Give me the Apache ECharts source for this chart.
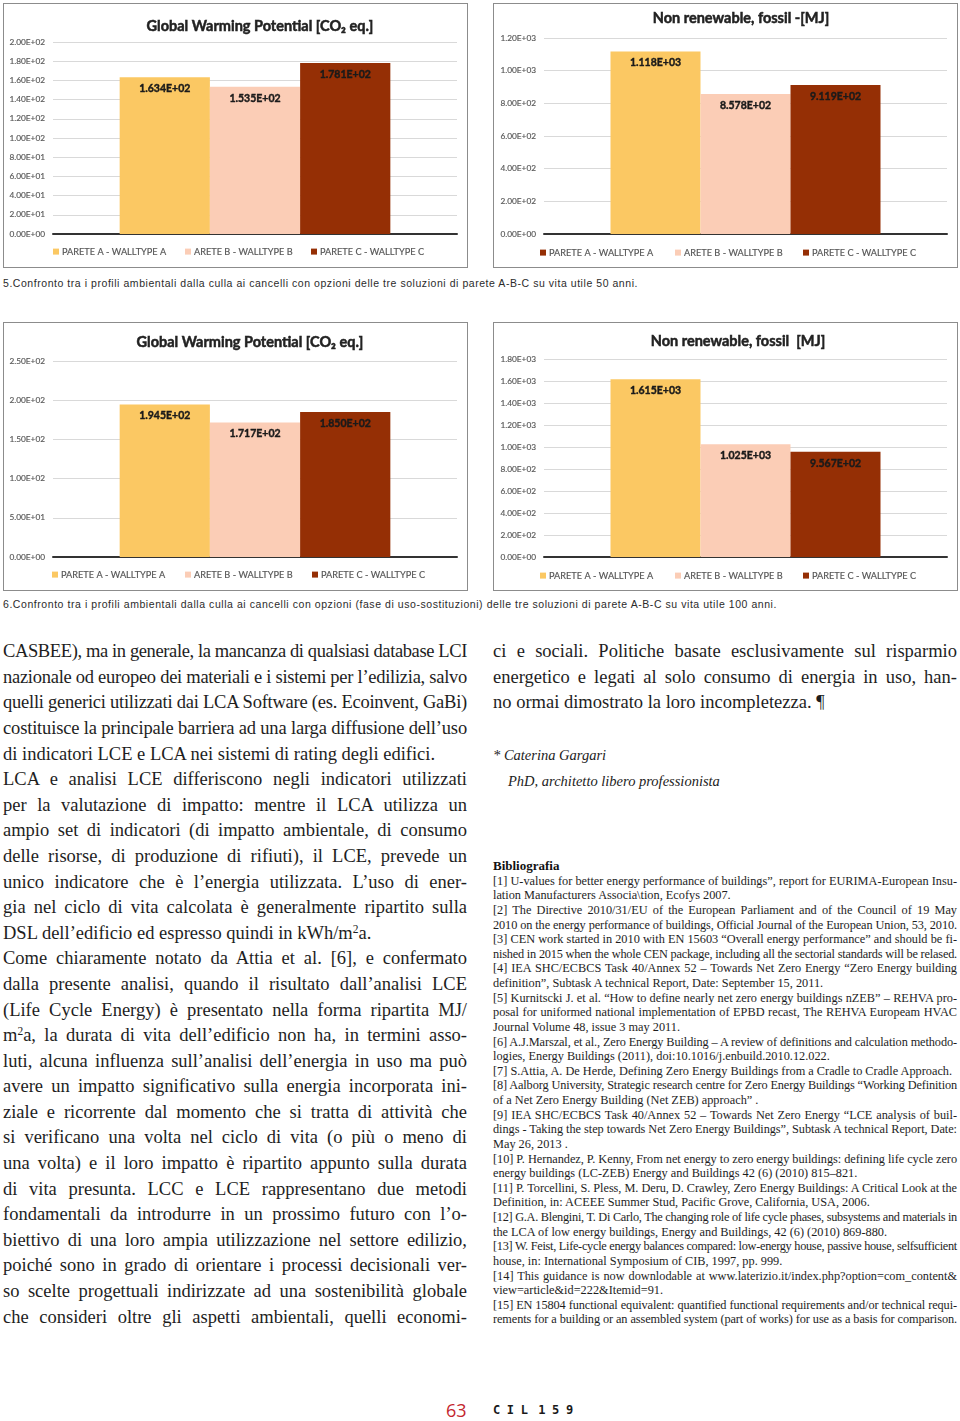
<!DOCTYPE html>
<html><head><meta charset="utf-8">
<script src="https://cdn.jsdelivr.net/npm/echarts@6/dist/echarts.min.js"></script>
<style>
html,body{margin:0;padding:0;background:#fff;}
#page{position:relative;width:960px;height:1421px;overflow:hidden;background:#fff;}
.box{position:absolute;border:1px solid #8c8c8c;box-sizing:border-box;background:#fff;}
.box > div{position:absolute;left:0;top:0;width:100%;height:100%;}
.cap{position:absolute;left:3px;font-family:"Liberation Sans",Arial,sans-serif;font-size:10.5px;color:#2b2b2b;white-space:nowrap;line-height:14px;}
.col{position:absolute;width:464px;font-family:"Liberation Serif","Times New Roman",serif;color:#1e1e1e;}
.ln{white-space:nowrap;overflow:visible;}
.ln span{white-space:nowrap;}
.body .ln{height:25.6px;line-height:25.6px;font-size:18.5px;}
.bib .ln{height:14.63px;line-height:14.63px;font-size:12.3px;}
sup{font-size:0.62em;line-height:0;vertical-align:0.55em;}
.it{position:absolute;font-family:"Liberation Serif","Times New Roman",serif;font-style:italic;font-size:14.5px;color:#222;white-space:nowrap;line-height:18px;}
.bh{position:absolute;left:493px;font-family:"Liberation Serif","Times New Roman",serif;font-weight:bold;font-size:13px;color:#111;line-height:16px;}
.pg{position:absolute;left:446px;top:1398px;font-family:"Open Sans","Noto Sans",sans-serif;font-size:18px;color:#c4262e;line-height:24px;}
.jn{position:absolute;left:493px;top:1401px;font-family:"DejaVu Sans Mono",monospace;font-weight:bold;font-size:12px;letter-spacing:6.6px;word-spacing:-10px;color:#1a1a1a;line-height:18px;white-space:nowrap;}
</style></head>
<body>
<div id="page">
  <div class="box" style="left:3px;top:3px;width:465px;height:265px;"><div id="c1"></div></div>
  <div class="box" style="left:493px;top:3px;width:465px;height:265px;"><div id="c2"></div></div>
  <div class="box" style="left:3px;top:322px;width:465px;height:269px;"><div id="c3"></div></div>
  <div class="box" style="left:493px;top:322px;width:465px;height:269px;"><div id="c4"></div></div>
  <div class="cap" id="cap5" data-w="635" style="top:276px;"></div>
  <div class="cap" id="cap6" data-w="774" style="top:597px;"></div>
  <div class="col body" id="leftCol" style="left:3px;top:639.2px;"></div>
  <div class="col body" id="rightCol" style="left:493px;top:639.2px;"></div>
  <div class="it" style="left:493px;top:746px;">* Caterina Gargari</div>
  <div class="it" style="left:508px;top:772px;">PhD, architetto libero professionista</div>
  <div class="bh" style="top:858px;">Bibliografia</div>
  <div class="col bib" id="bibCol" style="left:493px;top:873.7px;"></div>
  <div class="pg">63</div>
  <div class="jn">CIL 159</div>
</div>
<script>
// ---------------- DATA ----------------
const legendNames = ['PARETE A - WALLTYPE A', 'ARETE B - WALLTYPE B', 'PARETE C - WALLTYPE C'];
const barColors = ['#FBC863', '#FBCDB6', '#952F05'];
const gwp50 = [163.4, 153.5, 178.1];
const fossil50 = [1118, 857.8, 911.9];
const gwp100 = [194.5, 171.7, 185.0];
const fossil100 = [1615, 1025, 956.7];
const titles = ['Global Warming Potential [CO\u2082 eq.]', 'Non renewable, fossil -[MJ]', 'Global Warming Potential [CO\u2082 eq.]', 'Non renewable, fossil  [MJ]'];
const axisMax = [200, 1200, 250, 1800];
const axisInterval = [20, 200, 50, 200];

const caption5 = '5.Confronto tra i profili ambientali dalla culla ai cancelli con opzioni delle tre soluzioni di parete A-B-C su vita utile 50 anni.';
const caption6 = '6.Confronto tra i profili ambientali dalla culla ai cancelli con opzioni (fase di uso-sostituzioni) delle tre soluzioni di parete A-B-C su vita utile 100 anni.';

// j = justified line, l = last line of paragraph
const leftLines = [
 ['CASBEE), ma in generale, la mancanza di qualsiasi database LCI','j'],
 ['nazionale od europeo dei materiali e i sistemi per l’edilizia, salvo','j'],
 ['quelli generici utilizzati dai LCA Software (es. Ecoinvent, GaBi)','j'],
 ['costituisce la principale barriera ad una larga diffusione dell’uso','j'],
 ['di indicatori LCE e LCA nei sistemi di rating degli edifici.','l'],
 ['LCA e analisi LCE differiscono negli indicatori utilizzati','j'],
 ['per la valutazione di impatto: mentre il LCA utilizza un','j'],
 ['ampio set di indicatori (di impatto ambientale, di consumo','j'],
 ['delle risorse, di produzione di rifiuti), il LCE, prevede un','j'],
 ['unico indicatore che è l’energia utilizzata. L’uso di ener-','j'],
 ['gia nel ciclo di vita calcolata è generalmente ripartito sulla','j'],
 ['DSL dell’edificio ed espresso quindi in kWh/m<sup>2</sup>a.','l'],
 ['Come chiaramente notato da Attia et al. [6], e confermato','j'],
 ['dalla presente analisi, quando il risultato dall’analisi LCE','j'],
 ['(Life Cycle Energy) è presentato nella forma ripartita MJ/','j'],
 ['m<sup>2</sup>a, la durata di vita dell’edificio non ha, in termini asso-','j'],
 ['luti, alcuna influenza sull’analisi dell’energia in uso ma può','j'],
 ['avere un impatto significativo sulla energia incorporata ini-','j'],
 ['ziale e ricorrente dal momento che si tratta di attività che','j'],
 ['si verificano una volta nel ciclo di vita (o più o meno di','j'],
 ['una volta) e il loro impatto è ripartito appunto sulla durata','j'],
 ['di vita presunta. LCC e LCE rappresentano due metodi','j'],
 ['fondamentali da introdurre in un prossimo futuro con l’o-','j'],
 ['biettivo di una loro ampia utilizzazione nel settore edilizio,','j'],
 ['poiché sono in grado di orientare i processi decisionali ver-','j'],
 ['so scelte progettuali indirizzate ad una sostenibilità globale','j'],
 ['che consideri oltre gli aspetti ambientali, quelli economi-','j']
];
const rightLines = [
 ['ci e sociali. Politiche basate esclusivamente sul risparmio','j'],
 ['energetico e legati al solo consumo di energia in uso, han-','j'],
 ['no ormai dimostrato la loro incompletezza. ¶','l']
];
const bibLines = [
 ['[1] U-values for better energy performance of buildings”, report for EURIMA-European Insu-','j'],
 ['lation Manufacturers Associa\\tion, Ecofys 2007.','l'],
 ['[2] The Directive 2010/31/EU of the European Parliament and of the Council of 19 May','j'],
 ['2010 on the energy performance of buildings, Official Journal of the European Union, 53, 2010.','j'],
 ['[3] CEN work started in 2010 with EN 15603 “Overall energy performance” and should be fi-','j'],
 ['nished in 2015 when the whole CEN package, including all the sectorial standards will be relased.','j'],
 ['[4] IEA SHC/ECBCS Task 40/Annex 52 – Towards Net Zero Energy “Zero Energy building','j'],
 ['definition”, Subtask A technical Report, Date: September 15, 2011.','l'],
 ['[5] Kurnitscki J. et al. “How to define nearly net zero energy buildings nZEB” – REHVA pro-','j'],
 ['posal for uniformed national implementation of EPBD recast, The REHVA Europeam HVAC','j'],
 ['Journal Volume 48, issue 3 may 2011.','l'],
 ['[6] A.J.Marszal, et al., Zero Energy Building – A review of definitions and calculation methodo-','j'],
 ['logies, Energy Buildings (2011), doi:10.1016/j.enbuild.2010.12.022.','l'],
 ['[7] S.Attia, A. De Herde, Defining Zero Energy Buildings from a Cradle to Cradle Approach.','l'],
 ['[8] Aalborg University, Strategic research centre for Zero Energy Buildings “Working Definition','j'],
 ['of a Net Zero Energy Building (Net ZEB) approach” .','l'],
 ['[9] IEA SHC/ECBCS Task 40/Annex 52 – Towards Net Zero Energy “LCE analysis of buil-','j'],
 ['dings - Taking the step towards Net Zero Energy Buildings”, Subtask A technical Report, Date:','j'],
 ['May 26, 2013 .','l'],
 ['[10] P. Hernandez, P. Kenny, From net energy to zero energy buildings: defining life cycle zero','j'],
 ['energy buildings (LC-ZEB) Energy and Buildings 42 (6) (2010) 815–821.','l'],
 ['[11] P. Torcellini, S. Pless, M. Deru, D. Crawley, Zero Energy Buildings: A Critical Look at the','j'],
 ['Definition, in: ACEEE Summer Stud, Pacific Grove, California, USA, 2006.','l'],
 ['[12] G.A. Blengini, T. Di Carlo, The changing role of life cycle phases, subsystems and materials in','j'],
 ['the LCA of low energy buildings, Energy and Buildings, 42 (6) (2010) 869-880.','l'],
 ['[13] W. Feist, Life-cycle energy balances compared: low-energy house, passive house, selfsufficient','j'],
 ['house, in: International Symposium of CIB, 1997, pp. 999.','l'],
 ['[14] This guidance is now downlodable at www.laterizio.it/index.php?option=com_content&amp;','j'],
 ['view=article&amp;id=222&amp;Itemid=91.','l'],
 ['[15] EN 15804 functional equivalent: quantified functional requirements and/or technical requi-','j'],
 ['rements for a building or an assembled system (part of works) for use as a basis for comparison.','j']
];

// ---------------- TEXT LAYOUT ----------------
function fillCol(id, lines){
  const col = document.getElementById(id);
  col.innerHTML = lines.map(l => '<div class="ln ' + l[1] + '"><span>' + l[0] + '</span></div>').join('');
}
fillCol('leftCol', leftLines);
fillCol('rightCol', rightLines);
fillCol('bibCol', bibLines);
document.getElementById('cap5').textContent = caption5;
document.getElementById('cap6').textContent = caption6;

function fitText(){
  document.querySelectorAll('.ln').forEach(el => {
    const sp = el.firstElementChild;
    sp.style.letterSpacing = ''; sp.style.wordSpacing = '';
    const W = el.clientWidth;
    const txt = sp.textContent;
    const spaces = (txt.match(/ /g) || []).length;
    let w = sp.getBoundingClientRect().width;
    if (w > W) {
      sp.style.letterSpacing = ((W - w) / txt.length) + 'px';
      w = sp.getBoundingClientRect().width;
    }
    if (el.classList.contains('j') && spaces > 0) {
      sp.style.wordSpacing = ((W - w) / spaces) + 'px';
    }
  });
  document.querySelectorAll('.cap').forEach(el => {
    el.style.letterSpacing = '';
    const W = +el.dataset.w;
    const w = el.getBoundingClientRect().width;
    el.style.letterSpacing = ((W - w) / el.textContent.length) + 'px';
  });
}
fitText();
if (document.fonts && document.fonts.ready) document.fonts.ready.then(fitText);

// ---------------- CHARTS ----------------
function fmtE(v, d){
  const s = Number(v).toExponential(d);
  const parts = s.split('e');
  const ex = parseInt(parts[1], 10);
  return parts[0] + 'E' + (ex < 0 ? '-' : '+') + String(Math.abs(ex)).padStart(2, '0');
}

const chartDefs = [
  {id:'c1', values:gwp50, k:0, titleX:256, titleY:22, grid:{left:49,right:10,top:38,bottom:33}, legendX:[49,181,307], legendY:248, firstLegendColor:null},
  {id:'c2', values:fossil50, k:1, titleX:247, titleY:14, grid:{left:50,right:10,top:34,bottom:33}, legendX:[46,181,309], legendY:249, firstLegendColor:'#952F05'},
  {id:'c3', values:gwp100, k:2, titleX:246, titleY:19, grid:{left:49,right:10,top:38,bottom:33}, legendX:[48,181,308], legendY:252, firstLegendColor:null},
  {id:'c4', values:fossil100, k:3, titleX:244, titleY:18, grid:{left:50,right:10,top:36,bottom:33}, legendX:[46,181,309], legendY:253, firstLegendColor:null}
];

chartDefs.forEach(def => {
  const chart = echarts.init(document.getElementById(def.id), null, {renderer:'canvas'});
  const legends = legendNames.map((n, i) => {
    const item = {name:n};
    if (i === 0 && def.firstLegendColor) item.itemStyle = {color:def.firstLegendColor};
    return {
      data:[item], left:def.legendX[i], top:def.legendY - 5, padding:0,
      icon:'rect', itemWidth:6, itemHeight:6, selectedMode:false,
      textStyle:{fontFamily:'Lato', fontSize:9.2, color:'#555', padding:[0,0,0,-2],
        textBorderColor:'#777', textBorderWidth:0.2}
    };
  });
  chart.setOption({
    animation:false,
    backgroundColor:'#fff',
    title:{
      text:titles[def.k], left:def.titleX, top:def.titleY, textAlign:'center', textVerticalAlign:'middle', padding:0,
      textStyle:{fontFamily:'Lato', fontWeight:'bold', fontSize:14.5, color:'#222',
        textBorderColor:'#222', textBorderWidth:0.5}
    },
    legend:legends,
    grid:def.grid,
    xAxis:{
      type:'category', data:[''],
      axisLine:{show:true, lineStyle:{color:'#333', width:2}},
      axisTick:{show:false}, axisLabel:{show:false}, splitLine:{show:false}
    },
    yAxis:{
      type:'value', min:0, max:axisMax[def.k], interval:axisInterval[def.k],
      axisLine:{show:false}, axisTick:{show:false},
      axisLabel:{formatter:v => fmtE(v, 2), fontFamily:'Lato', fontSize:8.3, color:'#555', margin:8,
        textBorderColor:'#888', textBorderWidth:0.2},
      splitLine:{lineStyle:{color:'#d9d9d9', width:1}}
    },
    series:legendNames.map((n, i) => ({
      name:n, type:'bar', data:[def.values[i]],
      itemStyle:{color:barColors[i]},
      barGap:'0%', barCategoryGap:'33%',
      label:{show:true, position:'insideTop', distance:6, formatter:p => fmtE(p.value, 3),
        fontFamily:'Lato', fontWeight:'bold', fontSize:10.5, color:'#1a1a1a',
        textBorderColor:'#1a1a1a', textBorderWidth:0.4}
    }))
  });
});
</script>
</body></html>
